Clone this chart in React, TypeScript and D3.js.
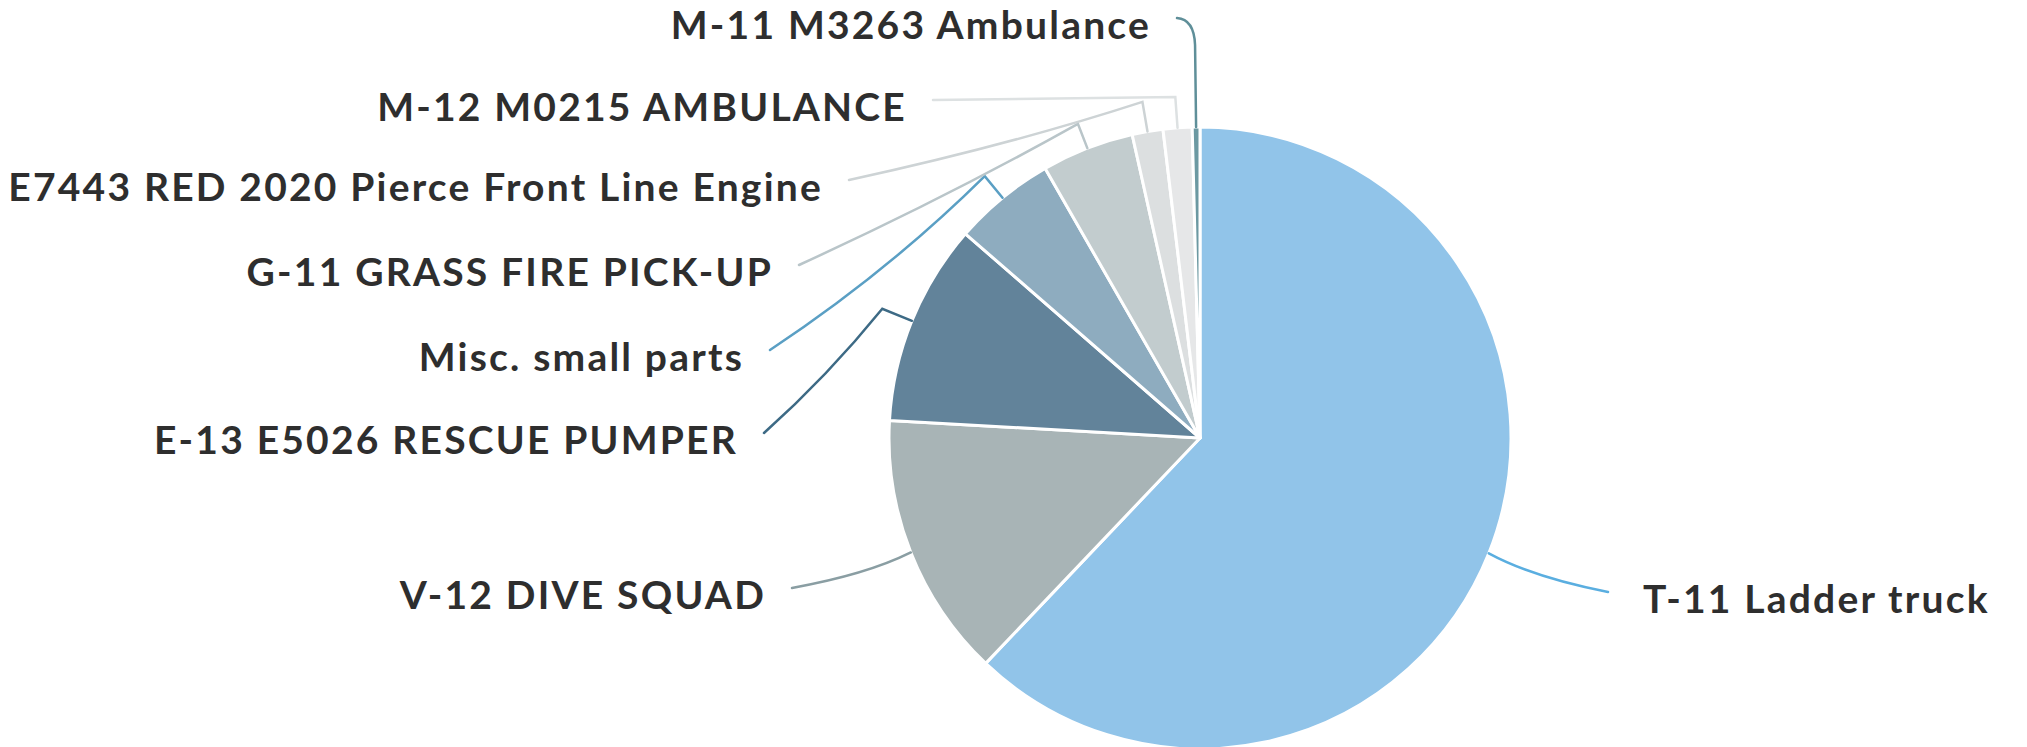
import * as d3 from 'd3';

// slices, clockwise from 12 o'clock
const categories = [
  'T-11 Ladder truck',
  'V-12 DIVE SQUAD',
  'E-13 E5026 RESCUE PUMPER',
  'Misc. small parts',
  'G-11 GRASS FIRE PICK-UP',
  'E7443 RED 2020 Pierce Front Line Engine',
  'M-12 M0215 AMBULANCE',
  'M-11 M3263 Ambulance',
];
const values = [62.1, 13.8, 10.5, 5.3, 4.8, 1.6, 1.5, 0.4];
const sliceColors = ['#91c4e9', '#a8b4b6', '#62839a', '#8eacbf', '#c2ccce', '#dcdfe0', '#e6e7e8', '#6c99a2'];
const lineColors = ['#5aaee0', '#8a9ea3', '#3d6a85', '#5a9fc4', '#b9c5c9', '#cdd3d5', '#dde1e2', '#5f8f99'];

const W = 2027;
const H = 747;
const CX = 1200;
const CY = 438;
const R = 311;

// layout of the callouts: end of each leader line, relative to pie centre
const labelAnchors: [number, number][] = [
  [408, 154], [-408, 150], [-436, -5], [-430, -88],
  [-401, -173], [-351, -258], [-267, -338], [-23, -420],
];
// radial stub length before the line bends to the label
const kneeOut = [0, 0, 32, 28, 26, 30, 31, 82];
const bend = [0.25, 0.25, 0.08, 0.1, 0.05, 0.1, 0.1, 0.9];

export default function App() {
  const pie = d3.pie<number>().sort(null).value(d => d);
  const arcs = pie(values);
  const arc = d3.arc<d3.PieArcDatum<number>>().innerRadius(0).outerRadius(R);
  const edgeArc = d3.arc<d3.PieArcDatum<number>>().innerRadius(R).outerRadius(R);

  const leader = (a: d3.PieArcDatum<number>, i: number) => {
    const mid = (a.startAngle + a.endAngle) / 2;
    const [ex, ey] = edgeArc.centroid(a);
    const kx = Math.sin(mid) * (R + kneeOut[i]);
    const ky = -Math.cos(mid) * (R + kneeOut[i]);
    const [ax, ay] = labelAnchors[i];
    const mx = (kx + ax) / 2;
    const my = (ky + ay) / 2;
    const cx = mx + (kx - mx) * bend[i];
    const cy = my + (ay - my) * bend[i];
    const p = d3.path();
    p.moveTo(ex, ey);
    if (kneeOut[i] > 0) p.lineTo(kx, ky);
    p.quadraticCurveTo(cx, cy, ax, ay);
    return p.toString();
  };

  return (
    <svg width={W} height={H} style={{ position: 'absolute', left: 0, top: 0, background: '#fff' }}>
      <g transform={`translate(${CX},${CY})`}>
        {arcs.map((a, i) => (
          <path key={categories[i]} d={arc(a) ?? ''} fill={sliceColors[i]} stroke="#fff" strokeWidth={3} strokeLinejoin="round" />
        ))}
        {arcs.map((a, i) => (
          <path key={'l' + i} d={leader(a, i)} fill="none" stroke={lineColors[i]} strokeWidth={2.5} strokeLinecap="round" />
        ))}
        {arcs.map((a, i) => {
          const [ax, ay] = labelAnchors[i];
          const right = ax > 0 && i === 0;
          return (
            <text
              key={'t' + i}
              x={right ? ax + 35 : ax - 26}
              y={ay + 21}
              textAnchor={right ? 'start' : 'end'}
              fontFamily="Lato, 'Open Sans', sans-serif"
              fontWeight={700}
              fontSize={39}
              letterSpacing={2.2}
              fill="#2e2e2e"
            >
              {categories[i]}
            </text>
          );
        })}
      </g>
    </svg>
  );
}
